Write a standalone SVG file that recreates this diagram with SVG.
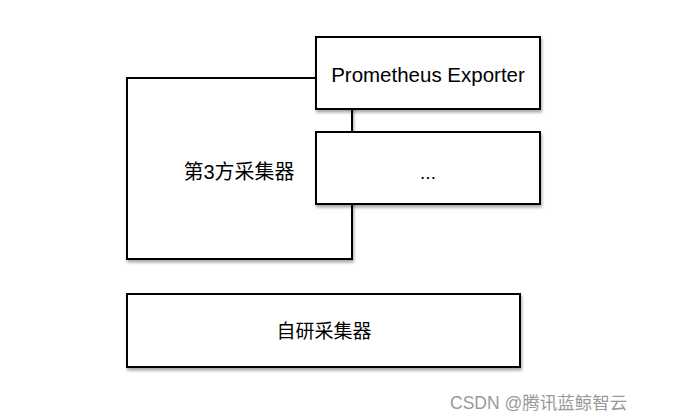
<svg xmlns="http://www.w3.org/2000/svg" width="679" height="420" viewBox="0 0 679 420">
<defs>
<filter id="sh" x="-5%" y="-5%" width="115%" height="125%">
<feDropShadow dx="1" dy="2.5" stdDeviation="1.8" flood-color="#000" flood-opacity="0.35"/>
</filter>
<style>
.box{fill:#fff;stroke:#000;stroke-width:2;filter:url(#sh)}
.lbl{font-family:"Liberation Sans","Noto Sans CJK SC",sans-serif;font-size:19px;fill:#000;text-anchor:middle;dominant-baseline:central}
.wm{font-family:"Liberation Sans","Noto Sans CJK SC",sans-serif;font-size:17.5px;fill:#9a9a9a}
</style>
</defs>
<rect width="679" height="420" fill="#fff"/>
<g id="third-party">
<rect class="box" x="127" y="78" width="225" height="181"/>
<text class="lbl" x="239" y="172" style="font-size:20px">第3方采集器</text>
</g>
<g id="prometheus-exporter">
<rect class="box" x="316" y="37" width="224" height="72"/>
<text class="lbl" x="428" y="74" style="font-size:20.5px">Prometheus Exporter</text>
</g>
<g id="others">
<rect class="box" x="316" y="132" width="224" height="72"/>
<text class="lbl" x="428" y="172">...</text>
</g>
<g id="self-developed">
<rect class="box" x="127" y="294" width="393" height="73"/>
<text class="lbl" x="324" y="331">自研采集器</text>
</g>
<g id="connectors"/>
<text class="wm" x="450" y="409">CSDN @腾讯蓝鲸智云</text>
</svg>
